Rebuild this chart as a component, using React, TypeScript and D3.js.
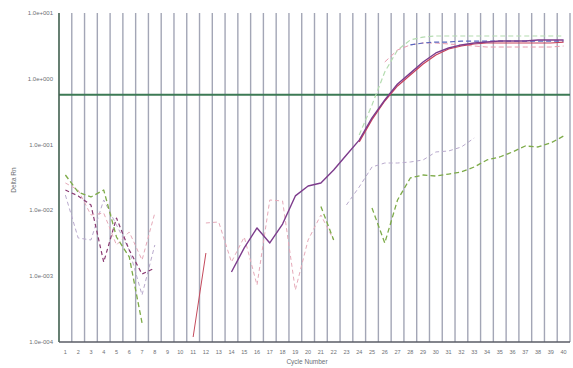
import React, { useEffect, useRef } from "react";
import * as d3 from "d3";

// cycle numbers on the x axis
const cycles = [
  1, 2, 3, 4, 5, 6, 7, 8, 9, 10, 11, 12, 13, 14, 15, 16, 17, 18, 19, 20,
  21, 22, 23, 24, 25, 26, 27, 28, 29, 30, 31, 32, 33, 34, 35, 36, 37, 38, 39, 40,
];
const yTicks = [10, 1, 0.1, 0.01, 0.001, 0.0001];
const yTickLabels = ["1.0e+001", "1.0e+000", "1.0e-001", "1.0e-002", "1.0e-003", "1.0e-004"];
const threshold = 0.57;

// Delta Rn per cycle, each series starts at the given cycle (null = not plotted)
const purpleStart = 14;
const purpleMain = [
  0.00116, 0.00269, 0.00541, 0.0032, 0.0062, 0.0166, 0.0235, 0.0261, 0.0411, 0.0695,
  0.117, 0.254, 0.476, 0.834, 1.22, 1.8, 2.47, 2.94, 3.27, 3.5, 3.62, 3.75, 3.75, 3.75,
  3.89, 3.89, 3.89,
];
const redStart = 24;
const redMain = [
  0.11, 0.24, 0.46, 0.778, 1.14, 1.68, 2.3, 2.84, 3.15, 3.38, 3.5, 3.5, 3.5, 3.5, 3.5,
  3.5, 3.62,
];
const blueStart = 28;
const blueDash = [3.27, 3.5, 3.62, 3.62, 3.75, 3.75, 3.75, 3.75, 3.75, 3.75, 3.75, 3.75, 3.75];
const paleGreenStart = 24;
const paleGreen = [
  0.14, 0.4, 1.27, 2.74, 3.89, 4.31, 4.47, 4.47, 4.47, 4.47, 4.47, 4.47, 4.47, 4.47, 4.47,
  4.47, 4.47,
];
const pinkStart = 26;
const pinkPlateau = [1.8, 2.74, 3.27, 3.5, 3.5, 3.38, 3.27, 3.15, 3.04, 3.04, 3.04, 3.04, 3.04, 3.04, 3.15];
const greenStart = 1;
const greenDash = [
  0.0345, 0.019, 0.016, 0.0204, 0.00394, 0.00196, 0.000195,
  null, null, null, null, null, null, null, null, null, null, null, null, null,
  0.0115, 0.00355, null, null, 0.0109, 0.0032, 0.0144, 0.0311, 0.0345, 0.0333, 0.0357,
  0.0384, 0.0457, 0.0584, 0.0648, 0.0773, 0.0953, 0.092, 0.106, 0.135,
];
const plumStart = 1;
const plumEarly = [0.0204, 0.0166, 0.0121, 0.00164, 0.00766, 0.0025, 0.00108, 0.00133];
const lilacStart = 1;
const lilacDash = [
  0.0171, 0.00381, 0.00355, 0.0144, 0.006, 0.0025, 0.000518, 0.00298,
  null, null, null, null, null, null, null, null, null, null, null, null, null, null,
  0.0121, 0.0227, 0.0457, 0.0525, 0.0525, 0.0544, 0.0584, 0.0773, 0.08, 0.092, 0.126,
];
const pinkNoiseStart = 1;
const pinkNoise = [
  0.0261, 0.0204, 0.00851, 0.00912, 0.00298, 0.0047, 0.00176, 0.00912, null, null, null,
  0.00644, 0.00667, 0.00164, 0.00394, 0.000734, 0.0144, 0.0139, 0.000617, 0.00355,
  0.00851, 0.00355,
];
const redNoiseStart = 11;
const redNoise = [0.000119, 0.00225];

const series = [
  { start: lilacStart, values: lilacDash, color: "#b9aacd", width: 1, dash: "4,3" },
  { start: pinkNoiseStart, values: pinkNoise, color: "#e6aab9", width: 1, dash: "4,3" },
  { start: redNoiseStart, values: redNoise, color: "#c44a5c", width: 1, dash: null },
  { start: paleGreenStart, values: paleGreen, color: "#b4dcb0", width: 1.2, dash: "5,3" },
  { start: pinkStart, values: pinkPlateau, color: "#e89aae", width: 1, dash: "5,3" },
  { start: greenStart, values: greenDash, color: "#7dab48", width: 1.3, dash: "5,3" },
  { start: plumStart, values: plumEarly, color: "#8a3a72", width: 1.2, dash: "4,3" },
  { start: blueStart, values: blueDash, color: "#5a68c0", width: 1.2, dash: "5,3" },
  { start: redStart, values: redMain, color: "#c8405a", width: 1.2, dash: null },
  { start: purpleStart, values: purpleMain, color: "#7d3c8c", width: 1.4, dash: null },
];

export default function App() {
  const ref = useRef(null);

  useEffect(() => {
    const width = 573;
    const height = 368;
    const margin = { top: 13, right: 3, bottom: 26, left: 59 };

    const svg = d3.select(ref.current);
    svg.selectAll("*").remove();
    svg.attr("width", width).attr("height", height);

    svg.append("rect").attr("width", width).attr("height", height).attr("fill", "#fff");

    const x = d3
      .scaleBand()
      .domain(cycles.map(String))
      .range([margin.left, width - margin.right]);
    const y = d3
      .scaleLog()
      .domain([0.0001, 10])
      .range([height - margin.bottom, margin.top]);

    const top = margin.top;
    const bottom = height - margin.bottom;

    // vertical grid at band edges
    svg
      .append("g")
      .selectAll("line")
      .data(cycles)
      .join("line")
      .attr("x1", (d) => x(String(d)) + x.bandwidth())
      .attr("x2", (d) => x(String(d)) + x.bandwidth())
      .attr("y1", top)
      .attr("y2", bottom)
      .attr("stroke", "#a3a6b6")
      .attr("stroke-width", 1.4);

    svg
      .append("clipPath")
      .attr("id", "plot")
      .append("rect")
      .attr("x", margin.left)
      .attr("y", top)
      .attr("width", width - margin.left - margin.right)
      .attr("height", bottom - top);

    const plot = svg.append("g").attr("clip-path", "url(#plot)");

    // threshold
    plot
      .append("line")
      .attr("x1", margin.left)
      .attr("x2", width - 1)
      .attr("y1", y(threshold))
      .attr("y2", y(threshold))
      .attr("stroke", "#3d7a55")
      .attr("stroke-width", 2);

    const line = d3
      .line()
      .defined((d) => d[1] != null)
      .x((d) => x(String(d[0])) + x.bandwidth() / 2)
      .y((d) => y(d[1]));

    series.forEach((s) => {
      const pts = s.values.map((v, i) => [s.start + i, v]);
      plot
        .append("path")
        .datum(pts)
        .attr("fill", "none")
        .attr("stroke", s.color)
        .attr("stroke-width", s.width)
        .attr("stroke-dasharray", s.dash)
        .attr("stroke-linejoin", "round")
        .attr("d", line);
    });

    // axes lines
    svg
      .append("line")
      .attr("x1", margin.left)
      .attr("x2", margin.left)
      .attr("y1", top)
      .attr("y2", bottom)
      .attr("stroke", "#40604f")
      .attr("stroke-width", 1.6);
    svg
      .append("line")
      .attr("x1", margin.left)
      .attr("x2", width - margin.right)
      .attr("y1", bottom)
      .attr("y2", bottom)
      .attr("stroke", "#5a5d66")
      .attr("stroke-width", 1.6);

    // y tick labels
    svg
      .append("g")
      .selectAll("text")
      .data(yTicks)
      .join("text")
      .attr("x", 53)
      .attr("y", (d) => y(d) + 2)
      .attr("text-anchor", "end")
      .attr("font-family", "Arial, Liberation Sans, sans-serif")
      .attr("font-size", 6)
      .attr("fill", "#6d6f74")
      .text((d, i) => yTickLabels[i]);

    // x tick labels
    svg
      .append("g")
      .selectAll("text")
      .data(cycles)
      .join("text")
      .attr("x", (d) => x(String(d)) + x.bandwidth() / 2)
      .attr("y", bottom + 12)
      .attr("text-anchor", "middle")
      .attr("font-family", "Arial, Liberation Sans, sans-serif")
      .attr("font-size", 5.5)
      .attr("fill", "#6d6f74")
      .text((d) => d);

    svg
      .append("text")
      .attr("x", 307)
      .attr("y", 364)
      .attr("text-anchor", "middle")
      .attr("font-family", "Arial, Liberation Sans, sans-serif")
      .attr("font-size", 6.5)
      .attr("fill", "#6d6f74")
      .text("Cycle Number");

    svg
      .append("text")
      .attr("transform", "translate(16,180) rotate(-90)")
      .attr("text-anchor", "middle")
      .attr("font-family", "Arial, Liberation Sans, sans-serif")
      .attr("font-size", 6.5)
      .attr("fill", "#6d6f74")
      .text("Delta Rn");
  }, []);

  return (
    <svg
      ref={ref}
      style={{ position: "absolute", left: 0, top: 0, display: "block" }}
    ></svg>
  );
}
